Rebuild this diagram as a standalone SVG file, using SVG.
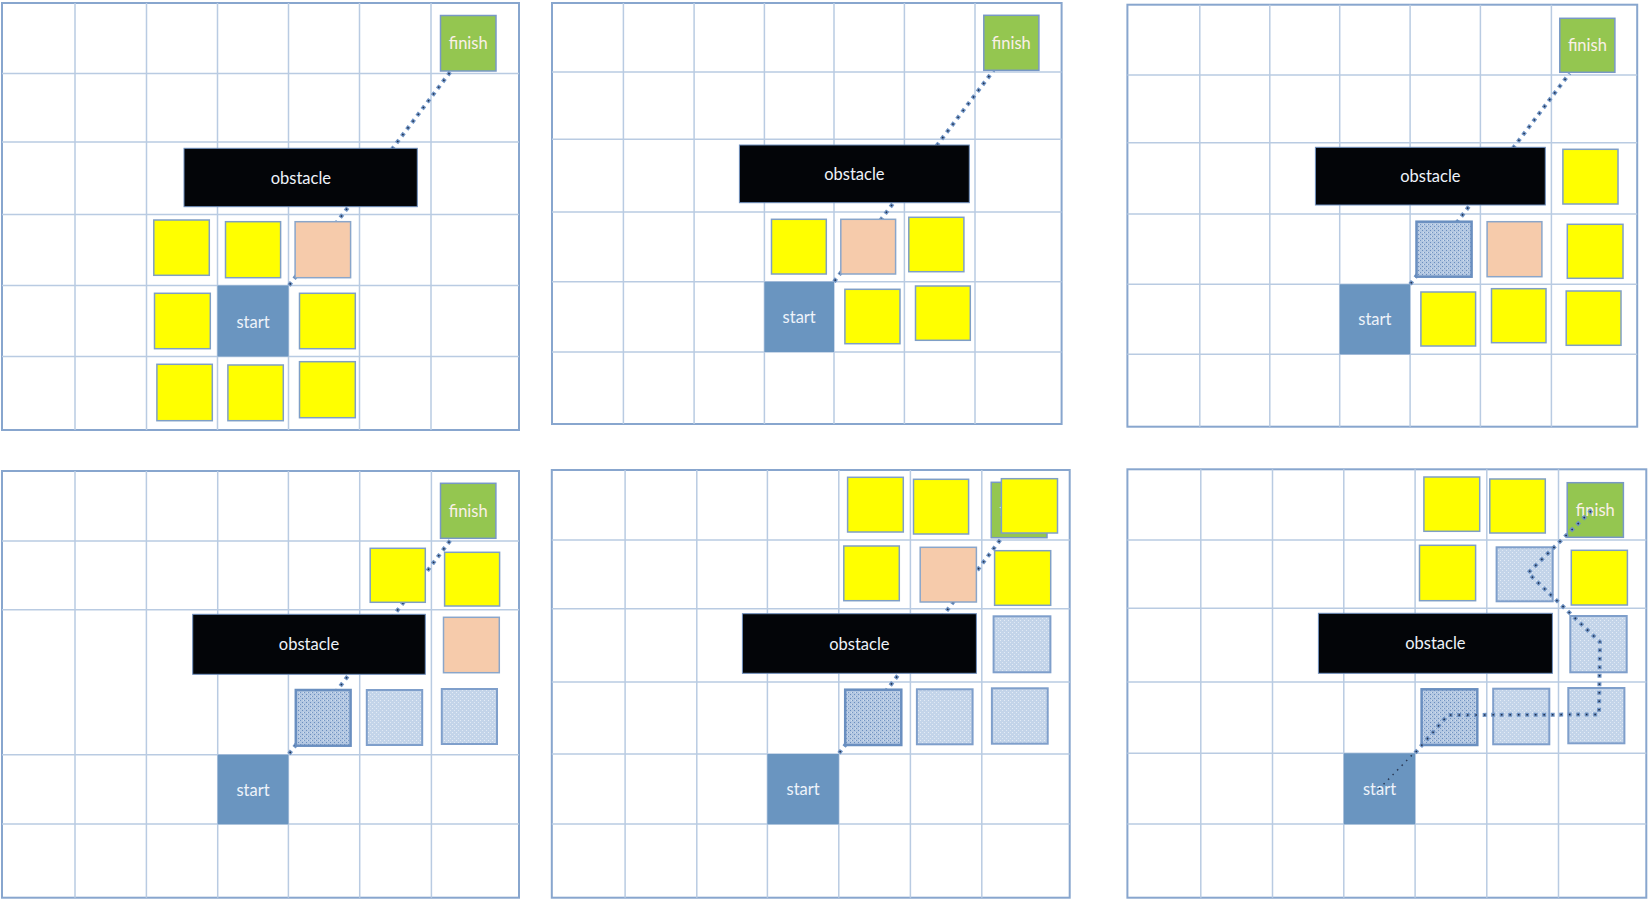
<svg xmlns="http://www.w3.org/2000/svg" width="1650" height="901" viewBox="0 0 1650 901">
<defs>
<pattern id="dk" width="4" height="4" patternUnits="userSpaceOnUse">
<rect width="4" height="4" fill="#b4c8e2"/>
<rect x="0" y="0" width="1" height="1" fill="#7496c4"/>
<rect x="2" y="2" width="1" height="1" fill="#6a8dbe"/>
<rect x="3" y="0" width="1" height="1" fill="#d2deee"/>
</pattern>
<pattern id="lt" width="4" height="4" patternUnits="userSpaceOnUse">
<rect width="4" height="4" fill="#c3d4e9"/>
<rect x="0" y="0" width="1" height="1" fill="#e4ecf6"/>
<rect x="2" y="2" width="1" height="1" fill="#dfe8f3"/>
</pattern>
<style>
.frame{fill:#fff;stroke:#88a6ce;stroke-width:2}
.grid line{stroke:#b9cbe2;stroke-width:1.5}
.y{fill:#ffff00;stroke:#7f9fc6;stroke-width:1.5}
.p{fill:#f6cbab;stroke:#8aa6ca;stroke-width:1.5}
.f{fill:#94c650;stroke:#7898c6;stroke-width:1.5}
.s{fill:#6a95c0}
.o{fill:#030508;stroke:#6f8fbe;stroke-width:1}
.d{fill:url(#dk);stroke:#6a8fc0;stroke-width:2.5}
.l{fill:url(#lt);stroke:#7f9fcb;stroke-width:2}
.t{font-family:Lato,"Open Sans",sans-serif;font-size:16.5px;fill:#eef3fa;text-anchor:middle}
.tf{fill:#fbf0e8}
.pa{fill:none;stroke:#6f93c4;stroke-width:4;stroke-dasharray:4 4.5;stroke-linejoin:round}
.pb{fill:none;stroke:#1e2d48;stroke-width:1.5;stroke-dasharray:1.5 7;stroke-dashoffset:-1.25}
.pt{fill:none;stroke:#2a3a55;stroke-width:1.5;stroke-dasharray:1.5 5}
</style>
</defs>

<!-- ================= PANEL 1 ================= -->
<g id="panel1-grid" class="grid">
<rect class="frame" x="2" y="3" width="517" height="427"/>
<line x1="75" y1="3" x2="75" y2="430"/><line x1="146.5" y1="3" x2="146.5" y2="430"/><line x1="217.5" y1="3" x2="217.5" y2="430"/><line x1="288.5" y1="3" x2="288.5" y2="430"/><line x1="359.5" y1="3" x2="359.5" y2="430"/><line x1="431" y1="3" x2="431" y2="430"/>
<line x1="2" y1="73.5" x2="519" y2="73.5"/><line x1="2" y1="142" x2="519" y2="142"/><line x1="2" y1="214.5" x2="519" y2="214.5"/><line x1="2" y1="285.5" x2="519" y2="285.5"/><line x1="2" y1="356.5" x2="519" y2="356.5"/>
</g>
<g id="panel1-connectors">
<path class="pa" d="M289,285.5 L450.6,71.5"/><path class="pb" d="M289,285.5 L450.6,71.5"/>
</g>
<g id="p1-finish"><rect class="f" x="440.5" y="15.5" width="55.5" height="55.5"/><text class="t tf" x="468.2" y="49.3">finish</text></g>
<g id="p1-obstacle"><rect class="o" x="184" y="148.3" width="233.3" height="58.4"/><text class="t" x="300.9" y="183.5">obstacle</text></g>
<g id="p1-y1"><rect class="y" x="153.8" y="220" width="55.5" height="55.3"/></g>
<g id="p1-y2"><rect class="y" x="225.5" y="221.7" width="55.1" height="56"/></g>
<g id="p1-peach"><rect class="p" x="295.1" y="221.7" width="55.5" height="56"/></g>
<g id="p1-y3"><rect class="y" x="154.5" y="293.3" width="55.8" height="55.4"/></g>
<g id="p1-start"><rect class="s" x="217.5" y="285.5" width="71" height="71"/><text class="t" x="253" y="327.5">start</text></g>
<g id="p1-y4"><rect class="y" x="299.5" y="293.3" width="55.8" height="55.4"/></g>
<g id="p1-y5"><rect class="y" x="156.9" y="364.3" width="55.4" height="56.4"/></g>
<g id="p1-y6"><rect class="y" x="227.9" y="365" width="55.4" height="55.7"/></g>
<g id="p1-y7"><rect class="y" x="299.5" y="361.7" width="55.8" height="56"/></g>

<!-- ================= PANEL 2 ================= -->
<g id="panel2-grid" class="grid">
<rect class="frame" x="552" y="3" width="509.6" height="421"/>
<line x1="623.4" y1="3" x2="623.4" y2="424"/><line x1="694.1" y1="3" x2="694.1" y2="424"/><line x1="764.4" y1="3" x2="764.4" y2="424"/><line x1="834" y1="3" x2="834" y2="424"/><line x1="904.4" y1="3" x2="904.4" y2="424"/><line x1="975" y1="3" x2="975" y2="424"/>
<line x1="552" y1="72" x2="1061.6" y2="72"/><line x1="552" y1="139.3" x2="1061.6" y2="139.3"/><line x1="552" y1="212" x2="1061.6" y2="212"/><line x1="552" y1="281.7" x2="1061.6" y2="281.7"/><line x1="552" y1="352" x2="1061.6" y2="352"/>
</g>
<g id="panel2-connectors">
<path class="pa" d="M834,281.7 L993.6,70.3"/><path class="pb" d="M834,281.7 L993.6,70.3"/>
</g>
<g id="p2-finish"><rect class="f" x="983.8" y="15.3" width="55.1" height="55"/><text class="t tf" x="1011.3" y="48.8">finish</text></g>
<g id="p2-obstacle"><rect class="o" x="739.4" y="145" width="229.9" height="57.7"/><text class="t" x="854.4" y="179.9">obstacle</text></g>
<g id="p2-y1"><rect class="y" x="771.5" y="219.3" width="54.8" height="54.7"/></g>
<g id="p2-peach"><rect class="p" x="840.8" y="219.3" width="54.8" height="54.7"/></g>
<g id="p2-y2"><rect class="y" x="908.8" y="217.3" width="55.1" height="54.4"/></g>
<g id="p2-start"><rect class="s" x="764.4" y="281.7" width="69.6" height="70.3"/><text class="t" x="799.2" y="322.8">start</text></g>
<g id="p2-y3"><rect class="y" x="844.9" y="289.3" width="55.1" height="54.4"/></g>
<g id="p2-y4"><rect class="y" x="915.5" y="286" width="54.8" height="54.3"/></g>

<!-- ================= PANEL 3 ================= -->
<g id="panel3-grid" class="grid">
<rect class="frame" x="1127.4" y="4.7" width="509.8" height="422"/>
<line x1="1199.8" y1="4.7" x2="1199.8" y2="426.7"/><line x1="1269.8" y1="4.7" x2="1269.8" y2="426.7"/><line x1="1339.7" y1="4.7" x2="1339.7" y2="426.7"/><line x1="1410.1" y1="4.7" x2="1410.1" y2="426.7"/><line x1="1480.4" y1="4.7" x2="1480.4" y2="426.7"/><line x1="1551.4" y1="4.7" x2="1551.4" y2="426.7"/>
<line x1="1127.4" y1="75" x2="1637.2" y2="75"/><line x1="1127.4" y1="142.7" x2="1637.2" y2="142.7"/><line x1="1127.4" y1="214" x2="1637.2" y2="214"/><line x1="1127.4" y1="284.3" x2="1637.2" y2="284.3"/><line x1="1127.4" y1="354.3" x2="1637.2" y2="354.3"/>
</g>
<g id="panel3-connectors">
<path class="pa" d="M1410.1,284.3 L1569.6,73.3"/><path class="pb" d="M1410.1,284.3 L1569.6,73.3"/>
</g>
<g id="p3-finish"><rect class="f" x="1559.8" y="18.3" width="55.1" height="54"/><text class="t tf" x="1587.4" y="51.3">finish</text></g>
<g id="p3-obstacle"><rect class="o" x="1315.4" y="147.3" width="229.9" height="57.7"/><text class="t" x="1430.4" y="182.2">obstacle</text></g>
<g id="p3-y1"><rect class="y" x="1562.9" y="149.3" width="55.1" height="54.7"/></g>
<g id="p3-closed1"><rect class="d" x="1416.5" y="221.7" width="55.1" height="55"/></g>
<g id="p3-peach"><rect class="p" x="1487.1" y="221.7" width="54.8" height="55"/></g>
<g id="p3-y2"><rect class="y" x="1567.3" y="224.3" width="55.7" height="54"/></g>
<g id="p3-start"><rect class="s" x="1339.7" y="284.3" width="70.4" height="70"/><text class="t" x="1374.9" y="325.3">start</text></g>
<g id="p3-y3"><rect class="y" x="1420.9" y="292" width="54.7" height="54"/></g>
<g id="p3-y4"><rect class="y" x="1491.5" y="288.7" width="54.5" height="54"/></g>
<g id="p3-y5"><rect class="y" x="1566.2" y="291" width="54.8" height="54.3"/></g>

<!-- ================= PANEL 4 ================= -->
<g id="panel4-grid" class="grid">
<rect class="frame" x="2" y="471" width="517" height="426.7"/>
<line x1="75" y1="471" x2="75" y2="897.7"/><line x1="146.4" y1="471" x2="146.4" y2="897.7"/><line x1="217.7" y1="471" x2="217.7" y2="897.7"/><line x1="288.4" y1="471" x2="288.4" y2="897.7"/><line x1="359.7" y1="471" x2="359.7" y2="897.7"/><line x1="431.4" y1="471" x2="431.4" y2="897.7"/>
<line x1="2" y1="541" x2="519" y2="541"/><line x1="2" y1="609.7" x2="519" y2="609.7"/><line x1="2" y1="754.7" x2="519" y2="754.7"/><line x1="2" y1="824" x2="519" y2="824"/>
</g>
<g id="panel4-connectors">
<path class="pa" d="M289,754 L450.6,540"/><path class="pb" d="M289,754 L450.6,540"/>
</g>
<g id="p4-finish"><rect class="f" x="440.5" y="483.3" width="55.4" height="55"/><text class="t tf" x="468.2" y="516.8">finish</text></g>
<g id="p4-y1"><rect class="y" x="370.2" y="548.3" width="55.1" height="54"/></g>
<g id="p4-y2"><rect class="y" x="444.6" y="552.3" width="55" height="53.7"/></g>
<g id="p4-obstacle"><rect class="o" x="192.7" y="614.3" width="232.6" height="60"/><text class="t" x="309" y="650.3">obstacle</text></g>
<g id="p4-peach"><rect class="p" x="443.5" y="617.3" width="55.8" height="55.4"/></g>
<g id="p4-closed1"><rect class="d" x="295.8" y="690" width="54.8" height="55.7"/></g>
<g id="p4-closed2"><rect class="l" x="366.8" y="690" width="55.4" height="55"/></g>
<g id="p4-closed3"><rect class="l" x="441.8" y="689" width="55.2" height="55"/></g>
<g id="p4-start"><rect class="s" x="217.7" y="754.7" width="70.7" height="69.6"/><text class="t" x="253" y="795.5">start</text></g>

<!-- ================= PANEL 5 ================= -->
<g id="panel5-grid" class="grid">
<rect class="frame" x="551.8" y="470" width="517.9" height="427.7"/>
<line x1="625.1" y1="470" x2="625.1" y2="897.7"/><line x1="696.8" y1="470" x2="696.8" y2="897.7"/><line x1="767.4" y1="470" x2="767.4" y2="897.7"/><line x1="838.8" y1="470" x2="838.8" y2="897.7"/><line x1="910.4" y1="470" x2="910.4" y2="897.7"/><line x1="981.8" y1="470" x2="981.8" y2="897.7"/>
<line x1="551.8" y1="540" x2="1069.7" y2="540"/><line x1="551.8" y1="608.7" x2="1069.7" y2="608.7"/><line x1="551.8" y1="682" x2="1069.7" y2="682"/><line x1="551.8" y1="754" x2="1069.7" y2="754"/><line x1="551.8" y1="824" x2="1069.7" y2="824"/>
</g>
<g id="panel5-connectors">
<path class="pa" d="M839,753.3 L1000.7,539.3"/><path class="pb" d="M839,753.3 L1000.7,539.3"/>
</g>
<g id="p5-y1"><rect class="y" x="847.6" y="477.3" width="55.7" height="54.7"/></g>
<g id="p5-y2"><rect class="y" x="913.5" y="479.3" width="55.1" height="54.7"/></g>
<g id="p5-finish"><rect class="f" x="991.2" y="482.3" width="55.8" height="55.4"/><text class="t tf" x="1019.1" y="516">finish</text></g>
<g id="p5-y3"><rect class="y" x="1001.4" y="478.7" width="56.1" height="54.3"/></g>
<g id="p5-y4"><rect class="y" x="843.8" y="546" width="55.5" height="54.7"/></g>
<g id="p5-peach"><rect class="p" x="920.2" y="547.3" width="56.2" height="54.7"/></g>
<g id="p5-y5"><rect class="y" x="994.6" y="550.7" width="56.1" height="54.6"/></g>
<g id="p5-obstacle"><rect class="o" x="742.4" y="613.7" width="234" height="59.6"/><text class="t" x="859.4" y="649.5">obstacle</text></g>
<g id="p5-closed4"><rect class="l" x="993.6" y="616.3" width="56.8" height="56"/></g>
<g id="p5-closed1"><rect class="d" x="845.2" y="689.7" width="56.1" height="55.3"/></g>
<g id="p5-closed2"><rect class="l" x="916.9" y="689.3" width="55.7" height="55"/></g>
<g id="p5-closed3"><rect class="l" x="991.9" y="688.3" width="55.8" height="55.4"/></g>
<g id="p5-start"><rect class="s" x="767.4" y="754" width="71.4" height="70.3"/><text class="t" x="803.1" y="795">start</text></g>

<!-- ================= PANEL 6 ================= -->
<g id="panel6-grid" class="grid">
<rect class="frame" x="1127.4" y="469.3" width="518.9" height="428.4"/>
<line x1="1200.8" y1="469.3" x2="1200.8" y2="897.7"/><line x1="1272.5" y1="469.3" x2="1272.5" y2="897.7"/><line x1="1343.8" y1="469.3" x2="1343.8" y2="897.7"/><line x1="1415.1" y1="469.3" x2="1415.1" y2="897.7"/><line x1="1486.8" y1="469.3" x2="1486.8" y2="897.7"/><line x1="1558.5" y1="469.3" x2="1558.5" y2="897.7"/>
<line x1="1127.4" y1="540" x2="1646.3" y2="540"/><line x1="1127.4" y1="608.3" x2="1646.3" y2="608.3"/><line x1="1127.4" y1="682" x2="1646.3" y2="682"/><line x1="1127.4" y1="753.3" x2="1646.3" y2="753.3"/><line x1="1127.4" y1="824" x2="1646.3" y2="824"/>
</g>
<g id="p6-y1"><rect class="y" x="1423.9" y="477" width="55.8" height="54.3"/></g>
<g id="p6-y2"><rect class="y" x="1489.8" y="479" width="55.5" height="54"/></g>
<g id="p6-finish"><rect class="f" x="1567.2" y="482.7" width="56.2" height="54.6"/><text class="t tf" x="1595.3" y="516">finish</text></g>
<g id="p6-y3"><rect class="y" x="1419.5" y="545.3" width="56.1" height="55.4"/></g>
<g id="p6-closed5"><rect class="l" x="1496.6" y="547.3" width="56.1" height="54"/></g>
<g id="p6-y4"><rect class="y" x="1571.3" y="550.3" width="56.1" height="54.7"/></g>
<g id="p6-obstacle"><rect class="o" x="1318.4" y="613.3" width="234" height="60"/><text class="t" x="1435.4" y="649.3">obstacle</text></g>
<g id="p6-closed4"><rect class="l" x="1570.3" y="616" width="56.4" height="56.3"/></g>
<g id="p6-closed1"><rect class="d" x="1421.6" y="689.3" width="55.7" height="55.7"/></g>
<g id="p6-closed2"><rect class="l" x="1493.2" y="688.7" width="56.1" height="55.6"/></g>
<g id="p6-closed3"><rect class="l" x="1568.3" y="688" width="56.1" height="55.3"/></g>
<g id="p6-start"><rect class="s" x="1343.8" y="753.3" width="71.3" height="71"/><text class="t" x="1379.5" y="794.8">start</text></g>
<g id="panel6-connectors">
<path class="pt" d="M1379,789 L1414,753"/>
<path class="pa" d="M1415,753 L1448,715 L1599,714.5 L1600,642 L1528,573 L1594,508"/>
<path class="pb" d="M1415,753 L1448,715 L1599,714.5 L1600,642 L1528,573 L1594,508"/>
</g>
</svg>
